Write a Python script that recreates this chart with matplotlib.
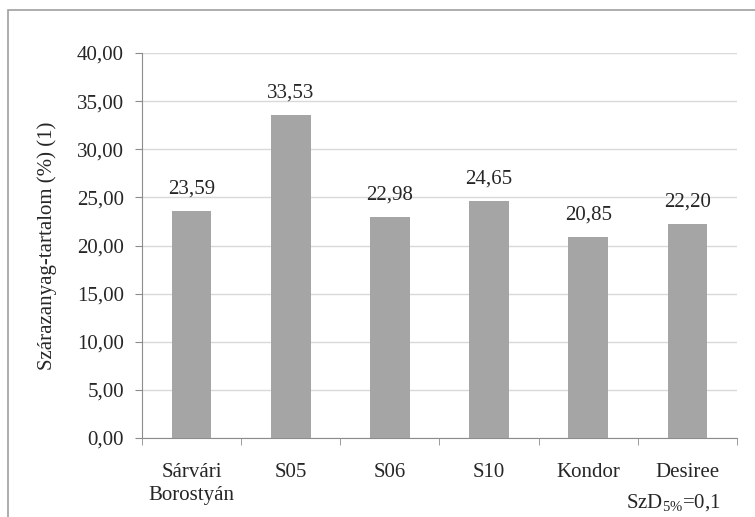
#!/usr/bin/env python3
"""Dry matter content bar chart (Szárazanyag-tartalom)."""

import matplotlib
matplotlib.use("Agg")
import matplotlib.pyplot as plt
from matplotlib.patches import Rectangle
import numpy as np

categories = ["Sárvári\nBorostyán", "S05", "S06", "S10", "Kondor", "Desiree"]
values = [23.59, 33.53, 22.98, 24.65, 20.85, 22.20]
yticks = [0, 5, 10, 15, 20, 25, 30, 35, 40]


def fmt(v):
    return f"{v:.2f}".replace(".", ",")


def main():
    plt.rcParams["font.family"] = ["Liberation Serif", "DejaVu Serif"]
    plt.rcParams["mathtext.fontset"] = "custom"
    plt.rcParams["mathtext.rm"] = "Liberation Serif"
    plt.rcParams["mathtext.it"] = "Liberation Serif:italic"
    fs = 15
    fig = plt.figure(figsize=(7.55, 5.17), dpi=100)
    ax = fig.add_axes([142 / 755, 1 - 438 / 517, 595 / 755, 385 / 517])

    x = np.arange(len(categories))
    ax.bar(x, values, width=0.4, color="#a5a5a5", zorder=3)
    for xi, v in zip(x, values):
        ax.text(xi, v + 1.3, fmt(v), ha="center", va="bottom", fontsize=fs,
                color="#262626")

    ax.set_xlim(-0.5, len(categories) - 0.5)
    ax.set_ylim(0, 40)
    ax.set_yticks(yticks)
    ax.set_yticklabels([fmt(t) for t in yticks], fontsize=fs, color="#262626")
    ax.set_xticks(x)
    ax.set_xticklabels(categories, fontsize=fs, color="#262626",
                       linespacing=1.3)
    ax.set_xticks(np.arange(len(categories) + 1) - 0.5, minor=True)
    ax.tick_params(axis="x", which="major", length=0, pad=18)
    ax.tick_params(axis="x", which="minor", length=5, color="#8c8c8c")
    ax.tick_params(axis="y", length=5, color="#8c8c8c", pad=8)

    ax.grid(axis="y", color="#d9d9d9", linewidth=1, zorder=0)
    for side in ("top", "right"):
        ax.spines[side].set_visible(False)
    for side in ("left", "bottom"):
        ax.spines[side].set_color("#8c8c8c")

    ax.set_ylabel("Szárazanyag-tartalom (%) (1)", fontsize=fs,
                  color="#262626", labelpad=14)

    fig.text(0.955, 0.008, r"SzD$_{\mathrm{5\%}}$=0,1", ha="right",
             va="bottom", fontsize=fs, color="#262626")

    fig.patches.append(Rectangle((8 / 755, -0.1), 1.2, 1 - 10 / 517 + 0.1,
                                 transform=fig.transFigure, fill=False,
                                 edgecolor="#a0a0a0", linewidth=1.2))

    fig.savefig("out.png", dpi=100)


if __name__ == "__main__":
    main()
